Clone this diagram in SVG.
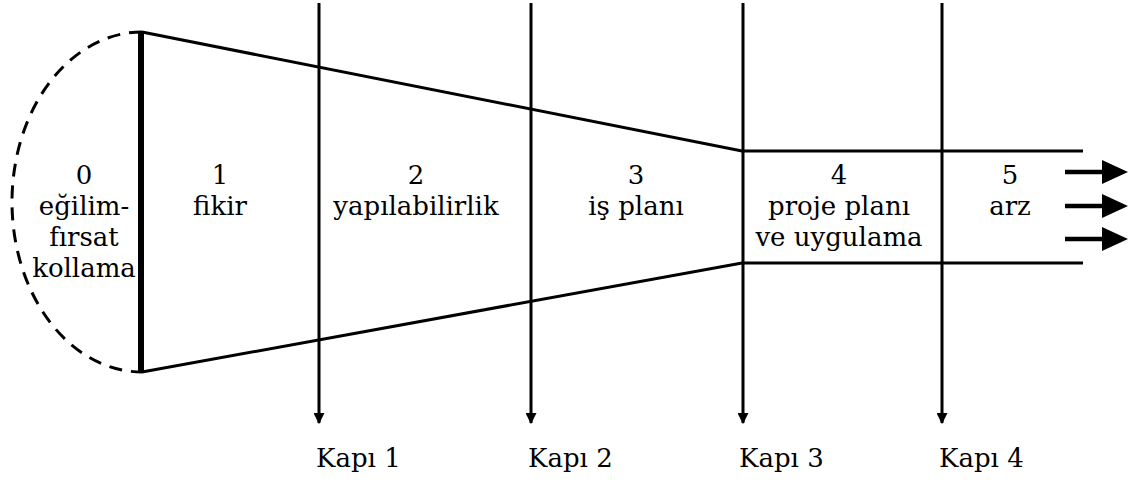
<svg xmlns="http://www.w3.org/2000/svg" width="1139" height="482" viewBox="0 0 1139 482">
  <style>
    text { font-family: "DejaVu Serif", "Liberation Serif", serif; font-size: 26px; fill: #000; }
    .lbl { text-anchor: middle; }
    .edge { stroke: #000; stroke-width: 3; fill: none; }
    .gate { stroke: #000; stroke-width: 3; fill: none; marker-end: url(#gateHead); }
    .out { stroke: #000; stroke-width: 4.5; fill: none; }
  </style>
  <defs>
    <marker id="gateHead" viewBox="0 0 10 10" refX="9" refY="5" markerUnits="userSpaceOnUse" markerWidth="11" markerHeight="11" orient="auto">
      <path d="M0,0 L10,5 L0,10 Z" fill="#000"/>
    </marker>
    <path id="outArrow" d="M1102,-12 L1128,0 L1102,12 Z" fill="#000"/>
  </defs>

  <rect width="1139" height="482" fill="#fff"/>

  <!-- funnel outline -->
  <g id="funnel">
    <path class="edge" d="M142,32 L742,151 L1083,151"/>
    <path class="edge" d="M142,372 L742,263 L1083,263"/>
    <path d="M142,32 A130,170 0 0 0 142,372" fill="none" stroke="#000" stroke-width="3" stroke-dasharray="13,9"/>
    <line x1="141" y1="31" x2="141" y2="373" stroke="#000" stroke-width="6"/>
  </g>

  <!-- stages -->
  <g id="stage0" font-family="DejaVu Serif, serif">
    <text class="lbl" x="84" y="184">0</text>
    <text class="lbl" x="84" y="215">eğilim-</text>
    <text class="lbl" x="84" y="246">fırsat</text>
    <text class="lbl" x="84" y="277">kollama</text>
  </g>
  <g id="stage1" font-family="DejaVu Serif, serif">
    <text class="lbl" x="220" y="184">1</text>
    <text class="lbl" x="220" y="215">fikir</text>
  </g>
  <g id="stage2" font-family="DejaVu Serif, serif">
    <text class="lbl" x="416" y="184">2</text>
    <text class="lbl" x="416" y="215">yapılabilirlik</text>
  </g>
  <g id="stage3" font-family="DejaVu Serif, serif">
    <text class="lbl" x="636" y="184">3</text>
    <text class="lbl" x="636" y="215">iş planı</text>
  </g>
  <g id="stage4" font-family="DejaVu Serif, serif">
    <text class="lbl" x="839" y="184">4</text>
    <text class="lbl" x="839" y="215">proje planı</text>
    <text class="lbl" x="839" y="246">ve uygulama</text>
  </g>
  <g id="stage5" font-family="DejaVu Serif, serif">
    <text class="lbl" x="1010" y="184">5</text>
    <text class="lbl" x="1010" y="215">arz</text>
  </g>

  <!-- gates -->
  <g id="connectors">
    <line class="gate" x1="319" y1="3" x2="319" y2="423"/>
    <line class="gate" x1="531" y1="3" x2="531" y2="423"/>
    <line class="gate" x1="743" y1="3" x2="743" y2="423"/>
    <line class="gate" x1="942" y1="3" x2="942" y2="423"/>
    <g id="output-arrows">
      <line class="out" x1="1065" y1="172" x2="1104" y2="172"/>
      <use href="#outArrow" y="172"/>
      <line class="out" x1="1065" y1="206" x2="1104" y2="206"/>
      <use href="#outArrow" y="206"/>
      <line class="out" x1="1065" y1="239" x2="1104" y2="239"/>
      <use href="#outArrow" y="239"/>
    </g>
  </g>

  <g id="gate-labels" font-family="DejaVu Serif, serif">
    <text x="316" y="467">Kapı 1</text>
    <text x="528" y="467">Kapı 2</text>
    <text x="739" y="467">Kapı 3</text>
    <text x="939" y="467">Kapı 4</text>
  </g>
</svg>
